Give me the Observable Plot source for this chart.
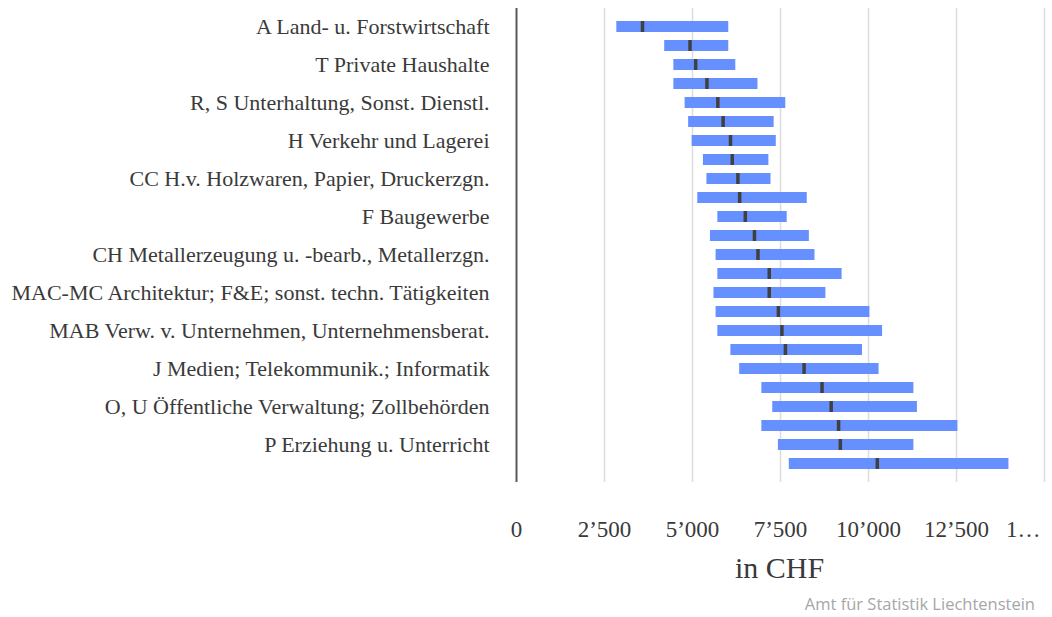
<!DOCTYPE html>
<html><head><meta charset="utf-8">
<script src="https://cdn.jsdelivr.net/npm/d3@7"></script>
<script src="https://cdn.jsdelivr.net/npm/@observablehq/plot@0.6"></script>
<style>
body{margin:0;background:#fff;}
#source{width:1052px;height:27px;box-sizing:border-box;padding-right:17px;text-align:right;font:16.5px "Open Sans",sans-serif;color:#a6a6a6;line-height:27px;}
</style></head><body>
<div id="chart"></div>
<div id="source">Amt für Statistik Liechtenstein</div>
<script>
// 24 categories; only every other one carries a visible label in the reference
const categoryLabels = [
  "A Land- u. Forstwirtschaft", "",
  "T Private Haushalte", "",
  "R, S Unterhaltung, Sonst. Dienstl.", "",
  "H Verkehr und Lagerei", "",
  "CC H.v. Holzwaren, Papier, Druckerzgn.", "",
  "F Baugewerbe", "",
  "CH Metallerzeugung u. -bearb., Metallerzgn.", "",
  "MAC-MC Architektur; F&E; sonst. techn. Tätigkeiten", "",
  "MAB Verw. v. Unternehmen, Unternehmensberat.", "",
  "J Medien; Telekommunik.; Informatik", "",
  "O, U Öffentliche Verwaltung; Zollbehörden", "",
  "P Erziehung u. Unterricht", ""
];
const lows    = [2850,4210,4470,4470,4790,4890,4990,5310,5410,5150,5720,5510,5670,5720,5610,5670,5720,6090,6340,6970,7280,6970,7440,7750];
const highs   = [6030,6030,6230,6860,7650,7320,7380,7170,7230,8260,7690,8320,8480,9250,8790,10040,10400,9830,10300,11290,11390,12540,11290,13990];
const medians = [3580,4930,5090,5410,5720,5870,6080,6130,6290,6340,6500,6760,6860,7180,7180,7440,7540,7640,8170,8680,8940,9150,9200,10250];
const xTicks = [0, 2500, 5000, 7500, 10000, 12500];
const xGrid = [2500, 5000, 7500, 10000, 12500, 15000];
const xTickLast = 15000;
const xTickLastLabel = "1…";
const axisTitle = "in CHF";

const serif = '"Liberation Serif", "Times New Roman", serif';
const data = lows.map((lo, i) => ({i, lo, hi: highs[i], med: medians[i]}));
const fmt = d3.formatLocale({decimal: ".", thousands: "’", grouping: [3], currency: ["", ""]}).format(",");

const chart = Plot.plot({
  width: 1052, height: 590,
  marginLeft: 516, marginRight: 8, marginTop: 8, marginBottom: 108,
  style: {fontFamily: serif, fontSize: "22px", color: "#3a3a3a", background: "#fff"},
  x: {domain: [0, 15000]},
  y: {type: "band", domain: d3.range(categoryLabels.length), paddingInner: 0.42, paddingOuter: 0.21},
  marks: [
    Plot.gridX(xGrid, {stroke: "#dcdcdc", strokeOpacity: 1, strokeWidth: 1.5}),
    Plot.ruleX([0], {stroke: "#595959", strokeWidth: 2}),
    Plot.barX(data, {x1: "lo", x2: "hi", y: "i", fill: "#6690ff"}),
    Plot.tickX(data, {x: "med", y: "i", stroke: "#404040", strokeWidth: 3.5}),
    Plot.axisY({tickSize: 0, tickPadding: 27, tickFormat: i => categoryLabels[i], fontSize: 22, label: null}),
    Plot.axisX(xTicks, {tickSize: 0, tickPadding: 38, tickFormat: fmt, fontSize: 23, label: null}),
    Plot.text([xTickLast], {x: d => d, frameAnchor: "bottom", lineAnchor: "top", dy: 38, dx: -4, text: () => xTickLastLabel, textAnchor: "end", fontSize: 23, fontFamily: serif}),
    Plot.text([axisTitle], {frameAnchor: "bottom", dy: 95, dx: -1, text: d => d, fontSize: 30, fontFamily: serif})
  ]
});
document.getElementById("chart").append(chart);
</script>
</body></html>
